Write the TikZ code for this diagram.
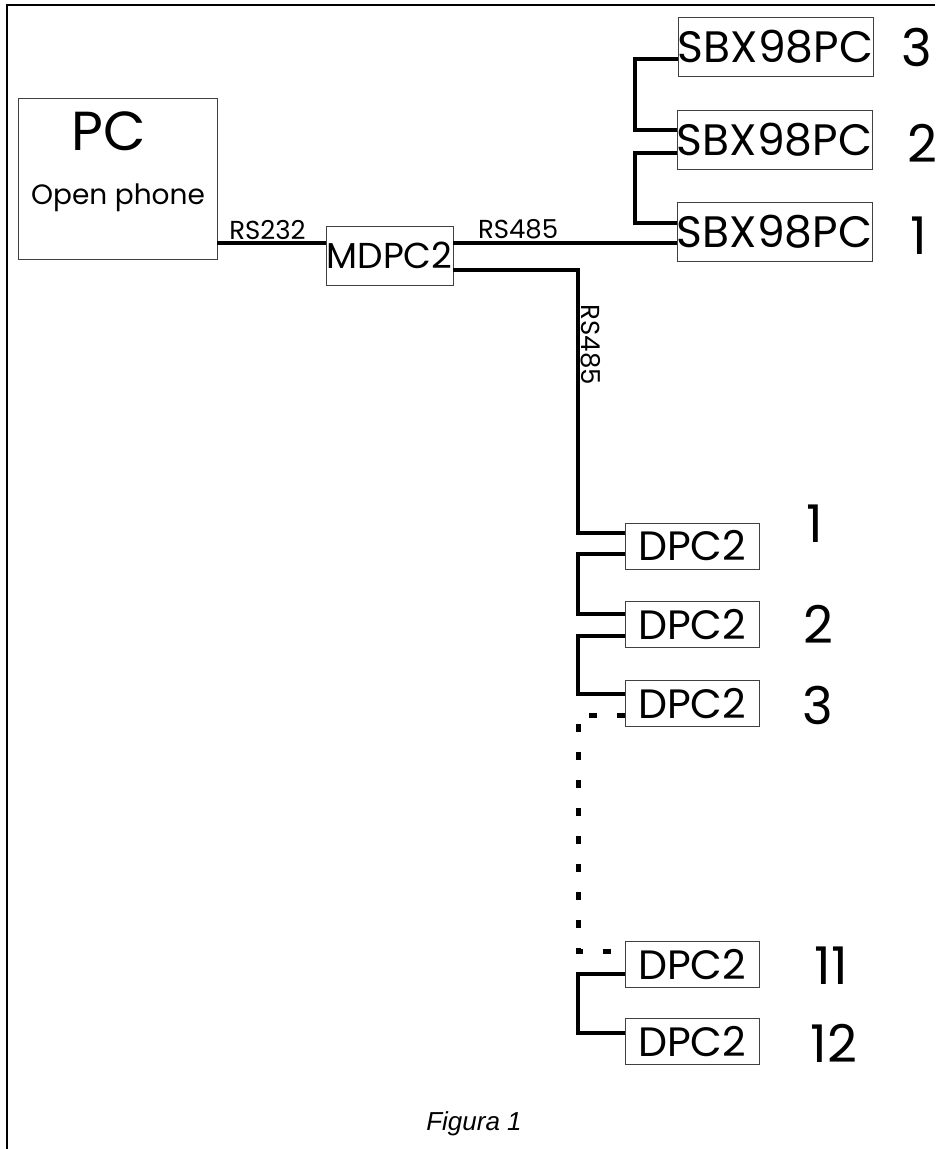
\documentclass[tikz,border=0pt]{standalone}
\usepackage{fontspec}
\setmainfont{Poppins}
\newfontfamily\capfont{Liberation Sans}
\usetikzlibrary{positioning}
\newcommand{\fsz}[1]{\fontsize{#1}{#1}\selectfont}
\begin{document}
\begin{tikzpicture}[x=1pt, y=1pt,
  unit/.style={draw=black!75, line width=0.8pt, inner sep=0pt},
  sbx/.style={unit, minimum width=185pt, minimum height=59pt, font=\fsz{44}},
  dpc/.style={unit, minimum width=134pt, minimum height=46pt, font=\fsz{41}},
  bus/.style={line width=3.4pt},
  dots/.style={line width=5pt, dash pattern=on 8pt off 20pt},
  num/.style={font=\fsz{52}, inner sep=0pt},
  tag/.style={font=\fsz{26}, inner sep=2pt}]
\useasboundingbox (0,0) rectangle (935,-1149);
% frame
\draw[line width=2.2pt] (7,-1149) -- (7,-5) -- (935,-5);

% PC and master
\node[unit, minimum width=199pt, minimum height=161pt] (pc) at (117.5,-178.5) {};
\node[font=\fsz{55}, inner sep=0pt] (pcname) at (109,-131) {PC};
\node[font=\fsz{28}, inner sep=0pt] (pcsw) at (118,-198) {Open phone};
\node[unit, minimum width=127pt, minimum height=59pt, font=\fsz{36}] (mdpc) at (389.5,-255.5) {MDPC2};

% SBX98PC chain
\node[sbx] (sbx3) at (775.5,-46.5) {SBX98PC};
\node[sbx] (sbx2) at (774.5,-140) {SBX98PC};
\node[sbx] (sbx1) at (774.5,-231.5) {SBX98PC};
\node[num] (n3) at (917,-47) {3};
\node[num] (n2) at (922,-143) {2};
\node[num] (n1) at (919,-236) {1};

% DPC2 chain
\node[dpc] (dpc1) at (692,-546) {DPC2};
\node[dpc] (dpc2) at (692,-624.5) {DPC2};
\node[dpc] (dpc3) at (692,-703.5) {DPC2};
\node[dpc] (dpc11) at (692,-964.5) {DPC2};
\node[dpc] (dpc12) at (692,-1041.5) {DPC2};
\node[num] (m1) at (815,-524) {1};
\node[num] (m2) at (818,-624) {2};
\node[num] (m3) at (818,-705) {3};
\node[num] (m11) at (831,-966) {11};
\node[num] (m12) at (834,-1043) {12};

% bus columns and ports
\coordinate (scol) at (635,0);
\coordinate (dcol) at (578,0);
\coordinate (m232) at ([yshift=12.5pt]mdpc.west);
\coordinate (mup) at ([yshift=12.5pt]mdpc.east);
\coordinate (mdn) at ([yshift=-14.5pt]mdpc.east);
\coordinate (s3o) at ([yshift=-12.5pt]sbx3.west);
\coordinate (s2i) at ([yshift=10pt]sbx2.west);
\coordinate (s2o) at ([yshift=-13pt]sbx2.west);
\coordinate (s1i) at ([yshift=8.5pt]sbx1.west);
\coordinate (d1i) at ([yshift=13pt]dpc1.west);
\coordinate (d1o) at ([yshift=-8pt]dpc1.west);
\coordinate (d2i) at ([yshift=10.5pt]dpc2.west);
\coordinate (d2o) at ([yshift=-11.5pt]dpc2.west);
\coordinate (d3i) at ([yshift=9.5pt]dpc3.west);
\coordinate (d3o) at ([yshift=-11.5pt]dpc3.west);
\coordinate (d11i) at ([yshift=13.5pt]dpc11.west);
\coordinate (d11o) at ([yshift=-9.5pt]dpc11.west);
\coordinate (d12i) at ([yshift=8.5pt]dpc12.west);

\draw[bus] (pc.east |- m232) -- (m232) node[tag, midway, above, xshift=-4pt] {RS232};
\draw[bus] (mup) -- (mup -| sbx1.west) node[tag, pos=0.29, above] {RS485};
\draw[bus] (s3o) -| (scol |- s2i) -- (s2i);
\draw[bus] (s2o) -| (scol |- s1i) -- (s1i);

\draw[bus] (mdn) -| (dcol |- d1i) -- (d1i);
\node[tag, rotate=-90, anchor=south, inner sep=3pt] (rsv) at (578,-345) {RS485};
\draw[bus] (d1o) -| (dcol |- d2i) -- (d2i);
\draw[bus] (d2o) -| (dcol |- d3i) -- (d3i);
\draw[dots] (d3o) -| (dcol |- d11i) -- (d11i);
\draw[bus] (d11o) -| (dcol |- d12i) -- (d12i);

\node[font=\capfont\itshape\fsz{26}] (cap) at (474,-1124) {Figura 1};
\end{tikzpicture}
\end{document}
